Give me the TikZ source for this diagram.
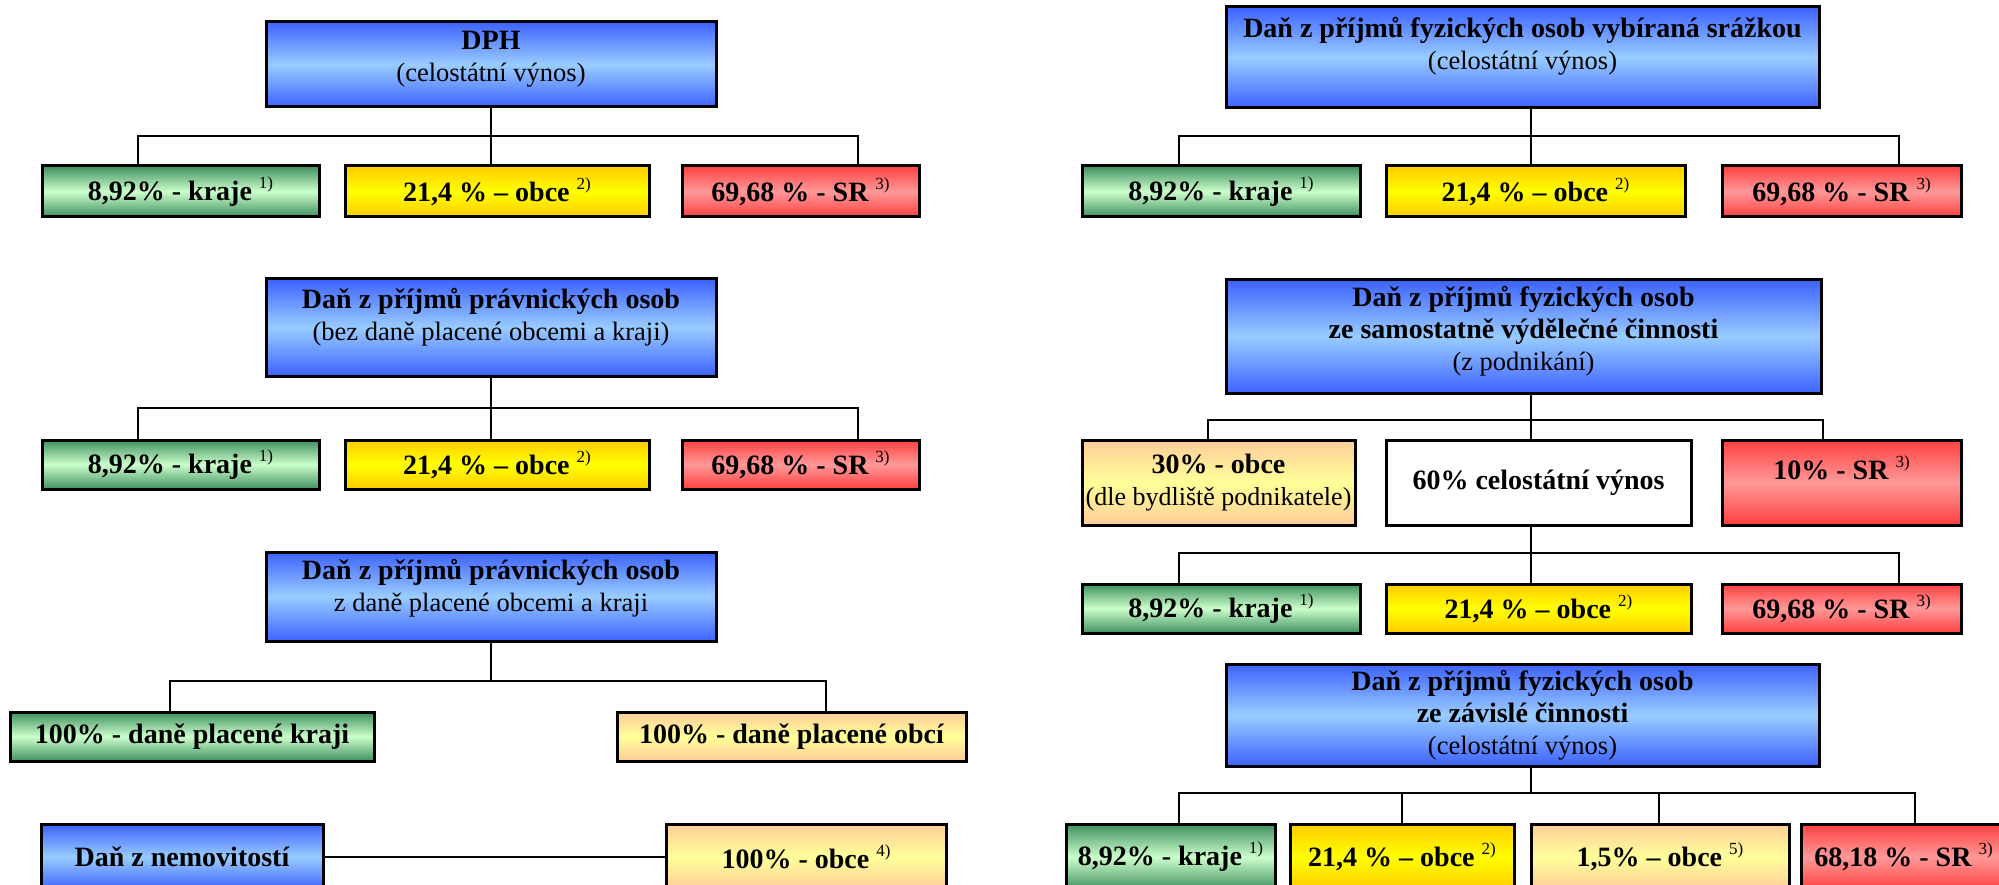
\documentclass[tikz,border=0pt]{standalone}
\usepackage{fontspec}
\setmainfont{Liberation Serif}
\definecolor{bdark}{HTML}{3D62FF}
\definecolor{blight}{HTML}{99CCFF}
\definecolor{gdark}{HTML}{3F8F5F}
\definecolor{glight}{HTML}{CCFFCC}
\definecolor{ydark}{HTML}{FFCC00}
\definecolor{ylight}{HTML}{FFFF00}
\definecolor{rdark}{HTML}{FF4040}
\definecolor{rlight}{HTML}{FF9999}
\definecolor{odark}{HTML}{FFCC99}
\definecolor{olight}{HTML}{FFFF99}
\newcommand\boldline[1]{{\fontsize{28}{32}\selectfont\bfseries #1}}
\newcommand\supnote[1]{\raisebox{12pt}{\fontsize{17}{17}\selectfont\mdseries #1}}
\tikzset{
  box/.style={draw=black, line width=3pt, inner sep=0pt, align=center,
    font=\fontsize{28}{32}\selectfont\bfseries},
  sz/.style 2 args={minimum width=#1pt, minimum height=#2pt},
  bluebox/.style={box, top color=bdark, bottom color=bdark, middle color=blight},
  greenbox/.style={box, top color=gdark, bottom color=gdark, middle color=glight},
  yellowbox/.style={box, top color=ydark, bottom color=ydark, middle color=ylight},
  redbox/.style={box, top color=rdark, bottom color=rdark, middle color=rlight},
  orangebox/.style={box, top color=odark, bottom color=odark, middle color=olight},
  whitebox/.style={box, fill=white},
  txt/.style={align=center, inner sep=0pt, font=\fontsize{26.5}{32}\selectfont},
  conn/.style={draw=black, line width=2pt},
}
\begin{document}
\begin{tikzpicture}[x=1pt, y=-1pt]
\useasboundingbox (0,0) rectangle (1999,885);
\clip (0,0) rectangle (1999,885);
\fill[white] (0,0) rectangle (1999,885);

% ---------------- LEFT COLUMN ----------------
% DPH
\node[bluebox, sz={450}{85}] (dph) at (491,64.5) {};
\node[txt] (dph-t) at ([yshift=5pt]dph.center) {\boldline{DPH}\\(celostátní výnos)};
\node[greenbox, sz={277}{51}] (a1g) at (180.5,191.5) {8,92\% - kraje \supnote{1)}};
\node[yellowbox, sz={304}{51}] (a1y) at (497,191.5) {21,4 \% – obce \supnote{2)}};
\node[redbox, sz={237}{51}] (a1r) at (800.5,191.5) {69,68 \% - SR \supnote{3)}};
\coordinate (busA1) at (491,136);
\draw[conn] (dph.south) -- (busA1);
\draw[conn] ([xshift=-42.5pt]a1g.north) |- (busA1) -| ([xshift=57.5pt]a1r.north);
\draw[conn] (busA1) -- (busA1 |- a1y.north);

% DPPO bez dane placene obcemi a kraji
\node[bluebox, sz={450}{97}] (pob) at (491,327.5) {};
\node[txt] (pob-t) at ([yshift=10pt]pob.center) {\boldline{Daň z příjmů právnických osob}\\(bez daně placené obcemi a kraji)};
\node[greenbox, sz={277}{49}] (b1g) at (180.5,464.5) {8,92\% - kraje \supnote{1)}};
\node[yellowbox, sz={304}{49}] (b1y) at (497,464.5) {21,4 \% – obce \supnote{2)}};
\node[redbox, sz={237}{49}] (b1r) at (800.5,464.5) {69,68 \% - SR \supnote{3)}};
\coordinate (busB1) at (491,408);
\draw[conn] (pob.south) -- (busB1);
\draw[conn] ([xshift=-42.5pt]b1g.north) |- (busB1) -| ([xshift=57.5pt]b1r.north);
\draw[conn] (busB1) -- (busB1 |- b1y.north);

% DPPO z dane placene obcemi a kraji
\node[bluebox, sz={450}{89}] (poz) at (491,596.5) {};
\node[txt] (poz-t) at ([yshift=8pt]poz.center) {\boldline{Daň z příjmů právnických osob}\\z daně placené obcemi a kraji};
\node[greenbox, sz={364}{49}] (c1g) at (192,736.5) {100\% - daně placené kraji};
\node[orangebox, sz={349}{49}] (c1o) at (791.5,736.5) {100\% - daně placené obcí};
\coordinate (busC1) at (491,681);
\draw[conn] (poz.south) -- (busC1);
\draw[conn] ([xshift=-22pt]c1g.north) |- (busC1) -| ([xshift=34.5pt]c1o.north);

% Dan z nemovitosti
\node[bluebox, sz={282}{66}] (nem) at (182,857) {Daň z nemovitostí};
\node[orangebox, sz={280}{66}] (d1o) at (806,857) {100\% - obce \supnote{4)}};
\draw[conn] (nem.east) -- (d1o.west);

% ---------------- RIGHT COLUMN ----------------
% DPFO srazkou
\node[bluebox, sz={593}{101}] (fos) at (1522.5,57.5) {};
\node[txt] (fos-t) at ([yshift=11.5pt]fos.center) {\boldline{Daň z příjmů fyzických osob vybíraná srážkou}\\(celostátní výnos)};
\node[greenbox, sz={278}{51}] (a2g) at (1221,191.5) {8,92\% - kraje \supnote{1)}};
\node[yellowbox, sz={299}{51}] (a2y) at (1535.5,191.5) {21,4 \% – obce \supnote{2)}};
\node[redbox, sz={239}{51}] (a2r) at (1841.5,191.5) {69,68 \% - SR \supnote{3)}};
\coordinate (busA2) at (1531,136);
\draw[conn] ([xshift=8.5pt]fos.south) -- (busA2);
\draw[conn] ([xshift=-42pt]a2g.north) |- (busA2) -| ([xshift=57.5pt]a2r.north);
\draw[conn] (busA2) -- (busA2 |- a2y.north);

% DPFO ze samostatne vydelecne cinnosti
\node[bluebox, sz={595}{113}] (fop) at (1523.5,336.5) {};
\node[txt] (fop-t) at ([yshift=5pt]fop.center) {\boldline{Daň z příjmů fyzických osob}\\\boldline{ze samostatně výdělečné činnosti}\\(z podnikání)};
\node[orangebox, sz={273}{85}] (b2o) at (1218.5,482.5) {30\% - obce\\{\fontsize{26}{32}\selectfont\mdseries(dle bydliště podnikatele)}};
\node[whitebox, sz={305}{85}] (b2w) at (1538.5,482.5) {60\% celostátní výnos};
\node[redbox, sz={239}{85}] (b2r) at (1841.5,482.5) {};
\node[txt, font=\fontsize{28}{32}\selectfont\bfseries] (b2r-t) at ([yshift=14.5pt]b2r.center) {10\% - SR \supnote{3)}};
\coordinate (busB2) at (1531,420);
\draw[conn] ([xshift=7.5pt]fop.south) -- (busB2);
\draw[conn] ([xshift=-10.5pt]b2o.north) |- (busB2) -| ([xshift=-18.5pt]b2r.north);
\draw[conn] (busB2) -- (busB2 |- b2w.north);

% 60 % celostatni vynos
\node[greenbox, sz={278}{49}] (c2g) at (1221,608.5) {8,92\% - kraje \supnote{1)}};
\node[yellowbox, sz={305}{49}] (c2y) at (1538.5,608.5) {21,4 \% – obce \supnote{2)}};
\node[redbox, sz={239}{49}] (c2r) at (1841.5,608.5) {69,68 \% - SR \supnote{3)}};
\coordinate (busC2) at (1531,553);
\draw[conn] (busC2 |- b2w.south) -- (busC2);
\draw[conn] ([xshift=-42pt]c2g.north) |- (busC2) -| ([xshift=57.5pt]c2r.north);
\draw[conn] (busC2) -- (busC2 |- c2y.north);

% DPFO ze zavisle cinnosti
\node[bluebox, sz={593}{102}] (foz) at (1522.5,715) {};
\node[txt] (foz-t) at (foz.center) {\boldline{Daň z příjmů fyzických osob}\\\boldline{ze závislé činnosti}\\(celostátní výnos)};
\node[greenbox, sz={209}{66}] (d2g) at (1170.5,857) {8,92\% - kraje \supnote{1)}};
\node[yellowbox, sz={224}{66}] (d2y) at (1402,857) {21,4 \% – obce \supnote{2)}};
\node[orangebox, sz={258}{66}] (d2o) at (1660,857) {1,5\% – obce \supnote{5)}};
\node[redbox, sz={205}{66}] (d2r) at (1903.5,857) {68,18 \% - SR \supnote{3)}};
\coordinate (busD2) at (1531,793);
\draw[conn] ([xshift=8.5pt]foz.south) -- (busD2);
\draw[conn] ([xshift=8.5pt]d2g.north) |- (busD2) -| ([xshift=11.5pt]d2r.north);
\draw[conn] (d2y.north) |- (busD2);
\draw[conn] ([xshift=-1pt]d2o.north) |- (busD2);
\end{tikzpicture}
\end{document}
